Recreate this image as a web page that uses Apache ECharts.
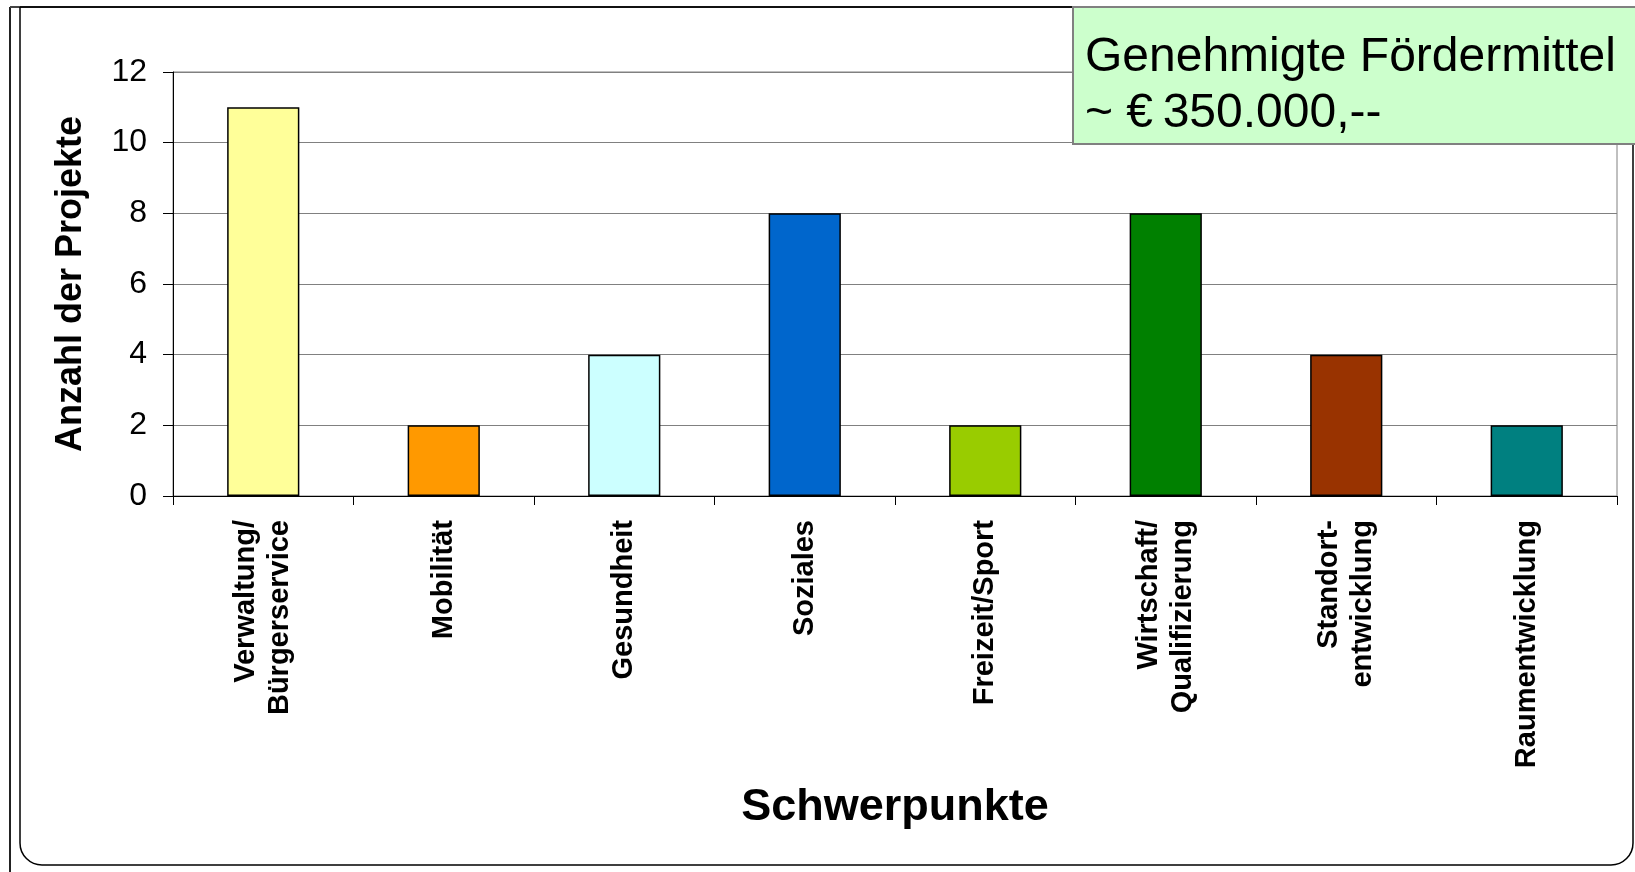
<!DOCTYPE html>
<html>
<head>
<meta charset="utf-8">
<script src="https://cdn.jsdelivr.net/npm/echarts@6/dist/echarts.min.js"></script>
<style>
  html, body { margin: 0; padding: 0; background: #ffffff; }
  #chart { width: 1635px; height: 872px; }
</style>
</head>
<body>
<div id="chart"></div>
<script>
// Projektschwerpunkte: Anzahl der Projekte je Themenfeld
const categories = [
  'Verwaltung/\nBürgerservice',
  'Mobilität',
  'Gesundheit',
  'Soziales',
  'Freizeit/Sport',
  'Wirtschaft/\nQualifizierung',
  'Standort-\nentwicklung',
  'Raumentwicklung'
];
const projectCounts = [11, 2, 4, 8, 2, 8, 4, 2];
const barColors = ['#FFFF99', '#FF9900', '#CCFFFF', '#0066CC', '#99CC00', '#008000', '#993300', '#008080'];
const yTicks = { min: 0, max: 12, interval: 2 };
const fundingLines = ['Genehmigte Fördermittel', '~ €\u2009350.000,--'];

const FONT = '"Liberation Sans", Arial, Helvetica, sans-serif';

const chart = echarts.init(document.getElementById('chart'), null, { renderer: 'canvas' });

chart.setOption({
  backgroundColor: '#ffffff',
  animation: false,
  textStyle: { fontFamily: FONT },
  grid: {
    left: 173, right: 18, top: 72, bottom: 376,
    show: true, borderColor: '#808080', borderWidth: 1,
    backgroundColor: 'transparent'
  },
  xAxis: {
    type: 'category',
    data: categories,
    name: 'Schwerpunkte',
    nameLocation: 'middle',
    nameGap: 289,
    nameTextStyle: { fontFamily: FONT, fontSize: 45, fontWeight: 'bold', color: '#000' },
    axisLine: { show: true, lineStyle: { color: '#000', width: 1 } },
    axisTick: { show: true, length: 9, lineStyle: { color: '#000', width: 1 } },
    axisLabel: {
      interval: 0, rotate: 90, margin: 24,
      fontFamily: FONT, fontSize: 29, fontWeight: 'bold', color: '#000', lineHeight: 34
    },
    splitLine: { show: false }
  },
  yAxis: {
    type: 'value',
    min: yTicks.min, max: yTicks.max, interval: yTicks.interval,
    name: 'Anzahl der Projekte',
    nameLocation: 'middle',
    nameRotate: 90,
    nameGap: 84,
    nameTextStyle: { fontFamily: FONT, fontSize: 36, fontWeight: 'bold', color: '#000' },
    axisLine: { show: true, lineStyle: { color: '#000', width: 1 } },
    axisTick: { show: true, length: 10, lineStyle: { color: '#000', width: 1 } },
    axisLabel: { margin: 26, fontFamily: FONT, fontSize: 32, color: '#000' },
    splitLine: { show: true, lineStyle: { color: '#808080', width: 1 } }
  },
  series: [{
    type: 'bar',
    data: projectCounts.map((v, i) => ({ value: v, itemStyle: { color: barColors[i] } })),
    barWidth: '40%',
    itemStyle: { borderColor: '#000', borderWidth: 1.5 }
  }],
  graphic: [
    // page frame
    { type: 'line', z: 10, shape: { x1: 10, y1: 7, x2: 10, y2: 872 }, style: { stroke: '#222', lineWidth: 2 } },
    { type: 'line', z: 10, shape: { x1: 10, y1: 7, x2: 1635, y2: 7 }, style: { stroke: '#444', lineWidth: 2 } },
    { type: 'rect', z: 10, shape: { x: 20, y: 7, width: 1613, height: 858, r: [0, 0, 22, 22] },
      style: { fill: 'none', stroke: '#000', lineWidth: 1.5 } },
    // funding note
    { type: 'rect', z: 20, shape: { x: 1073, y: 7, width: 580, height: 137 },
      style: { fill: '#CCFFCC', stroke: '#808080', lineWidth: 2 } },
    { type: 'text', z: 21, x: 1085, y: 58,
      style: { text: fundingLines[0], font: '48px ' + FONT, fill: '#000', verticalAlign: 'middle', align: 'left' } },
    { type: 'text', z: 21, x: 1085, y: 114,
      style: { text: fundingLines[1], font: '48px ' + FONT, fill: '#000', verticalAlign: 'middle', align: 'left' } }
  ]
});
</script>
</body>
</html>
